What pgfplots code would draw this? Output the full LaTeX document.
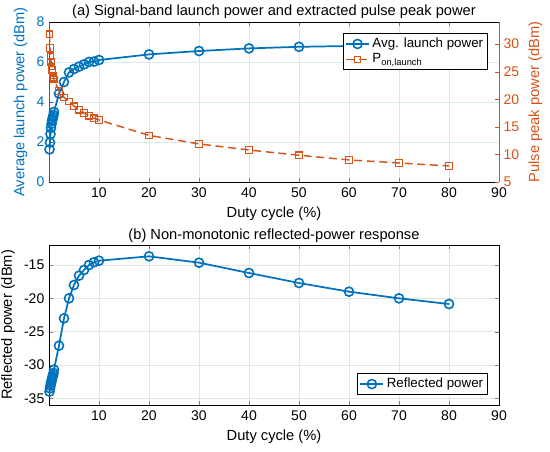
\documentclass[border=0pt]{standalone}
\usepackage{fontspec}
\setmainfont{Liberation Sans}
\usepackage{pgfplots}
\usepackage{pgfplotstable}
\pgfplotsset{compat=1.18}
\definecolor{mblue}{RGB}{0,114,189}
\definecolor{morange}{RGB}{217,83,25}

\pgfplotstableread{
x y
0.1 1.63
0.2 1.98
0.3 2.4
0.4 2.7
0.5 2.9
0.6 3.05
0.7 3.15
0.8 3.25
0.9 3.35
1 3.5
2 4.42
3 5.0
4 5.48
5 5.65
6 5.77
7 5.88
8 6.0
9 6.02
10 6.1
20 6.38
30 6.55
40 6.68
50 6.76
60 6.8
70 6.86
80 6.9
}\avgpow

\pgfplotstableread{
x y
0.1 31.8
0.2 29.3
0.3 27.8
0.4 26.8
0.5 25.9
0.6 25.3
0.7 24.8
0.8 24.3
0.9 23.9
1 23.6
2 21.5
3 20.35
4 19.6
5 18.75
6 18.1
7 17.5
8 17.0
9 16.55
10 16.25
20 13.45
30 11.9
40 10.8
50 9.85
60 9.0
70 8.45
80 7.9
}\ponpow

\pgfplotstableread{
x y
0.1 -34.0
0.2 -33.5
0.3 -33.1
0.4 -32.7
0.5 -32.4
0.6 -32.1
0.7 -31.8
0.8 -31.5
0.9 -31.2
1 -30.7
2 -27.1
3 -23.0
4 -20.0
5 -18.0
6 -16.6
7 -15.75
8 -15.0
9 -14.6
10 -14.35
20 -13.7
30 -14.65
40 -16.2
50 -17.7
60 -19.0
70 -20.0
80 -20.85
}\refpow

\begin{document}
\begin{tikzpicture}
\path[use as bounding box] (0,0) rectangle (412.5pt,338.25pt);
\pgfplotsset{
  common/.style={
    width=337.5pt, height=120pt, scale only axis,
    xmin=0, xmax=90, xtick={10,20,...,90},
    tick align=inside, major tick length=3pt,
    tick label style={font=\fontsize{10.5}{12}\selectfont},
    xticklabel style={yshift=-1pt},
    label style={font=\fontsize{11}{12}\selectfont},
    /pgf/number format/assume math mode=true,
    legend style={font=\fontsize{10}{11}\selectfont, draw=black, line width=0.6pt, inner sep=1.5pt, row sep=-1pt},
    legend cell align=left,
    axis line style={line width=0.5pt},
  },
  blueline/.style={mblue, line width=1.3pt, mark=o, mark size=3.4pt, mark options={solid, fill=white, line width=1.2pt}},
  orangeline/.style={morange, line width=1.1pt, dash pattern=on 6pt off 3.5pt, mark=square, mark size=2.4pt, mark options={solid, fill=white, line width=0.9pt}},
}
% top, left axis
\begin{axis}[common, name=topax,
  at={(36.75pt,201.75pt)}, anchor=south west,
  axis y line*=left,
  ymin=0, ymax=8, ytick={0,2,4,6,8},
  y axis line style={mblue},
  ytick style={mblue},
  yticklabel style={text=mblue},
  ylabel style={text=mblue},
  xmajorgrids, ymajorgrids,
  x grid style={gray!22, line width=0.4pt},
  y grid style={mblue!15, line width=0.4pt},
  xlabel={Duty cycle (\%)},
  ylabel={Average launch power (dBm)},
]
\addplot[blueline] table[x=x,y=y] {\avgpow};
\end{axis}
% top, right axis
\begin{axis}[common,
  at={(36.75pt,201.75pt)}, anchor=south west,
  axis y line*=right, axis x line=none,
  ymin=5, ymax=34, ytick={5,10,...,30},
  y axis line style={morange},
  ytick style={morange},
  yticklabel style={text=morange},
  ylabel style={text=morange},
  ylabel={Pulse peak power (dBm)},
  legend style={at={(0.976,0.931)}, anchor=north east, fill=white},
]
\addlegendimage{blueline}
\addlegendentry{Avg. launch power}
\addplot[orangeline] table[x=x,y=y] {\ponpow};
\addlegendentry{P\textsubscript{on,launch}}
\end{axis}
% bottom axis
\begin{axis}[common, name=botax,
  at={(36.75pt,34.5pt)}, anchor=south west,
  ymin=-36, ymax=-12, ytick={-35,-30,...,-15},
  xmajorgrids, ymajorgrids,
  grid style={gray!22, line width=0.4pt},
  xlabel={Duty cycle (\%)},
  ylabel={Reflected power (dBm)},
  legend style={at={(0.976,0.0625)}, anchor=south east, fill=white},
]
\addplot[blueline] table[x=x,y=y] {\refpow};
\addlegendentry{Reflected power}
\end{axis}
\node[anchor=base, inner sep=0pt, font=\fontsize{11}{12}\selectfont] at ([yshift=5pt]topax.north) {(a) Signal-band launch power and extracted pulse peak power};
\node[anchor=base, inner sep=0pt, font=\fontsize{11}{12}\selectfont] at ([yshift=4pt]botax.north) {(b) Non-monotonic reflected-power response};
\end{tikzpicture}
\end{document}
